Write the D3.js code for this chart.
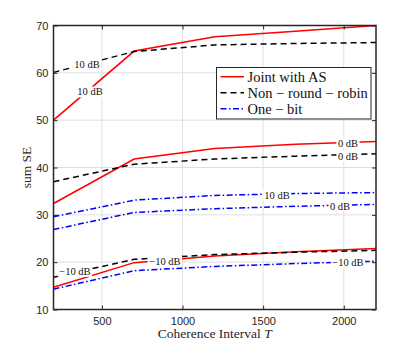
<!DOCTYPE html>
<html>
<head>
<meta charset="utf-8">
<script src="https://cdn.jsdelivr.net/npm/d3@7"></script>
<style>
  body { margin:0; background:#fff; }
  svg { display:block; }
</style>
</head>
<body>
<div id="chart"></div>
<script>
// coherence interval values
const T = [200, 700, 1200, 1700, 2200]

// sum SE series
const jointAS_10  = [50.0, 64.6, 67.6, 68.8, 70.0]
const nrr_10      = [60.1, 64.5, 65.9, 66.2, 66.4]
const jointAS_0   = [32.4, 41.8, 44.0, 44.9, 45.5]
const nrr_0       = [37.0, 40.7, 41.8, 42.4, 42.9]
const oneBit_10   = [29.6, 33.1, 34.1, 34.5, 34.7]
const oneBit_0    = [26.9, 30.5, 31.3, 31.8, 32.2]
const jointAS_m10 = [14.7, 19.9, 21.3, 22.2, 22.9]
const nrr_m10     = [16.8, 20.6, 21.6, 22.1, 22.5]
const oneBit_m10  = [14.3, 18.2, 19.1, 19.7, 20.2]

const xTicks = [500, 1000, 1500, 2000]
const yTicks = [10, 20, 30, 40, 50, 60, 70]

const legendNames = ["Joint with AS", "Non \u2212 round \u2212 robin", "One \u2212 bit"]

// SNR annotations: text, T, value
const snrLabels = [
  ["10 dB", 408, 61.9],
  ["10 dB", 426, 56.0],
  ["0 dB", 2026, 45.2],
  ["0 dB", 2026, 42.4],
  ["10 dB", 1586, 34.2],
  ["0 dB", 1977, 31.9],
  ["\u221210 dB", 333, 18.1],
  ["\u221210 dB", 891, 20.2],
  ["\u221210 dB", 2026, 20.0]
]

const styles = {
  joint: { color: "#ff0000", dash: null },
  nrr:   { color: "#000000", dash: "6,4" },
  one:   { color: "#0000ff", dash: "6,2.5,1.5,2.5" }
}

const series = [
  { s: "joint", v: jointAS_10 }, { s: "nrr", v: nrr_10 },
  { s: "joint", v: jointAS_0 },  { s: "nrr", v: nrr_0 },
  { s: "one", v: oneBit_10 },    { s: "one", v: oneBit_0 },
  { s: "joint", v: jointAS_m10 },{ s: "nrr", v: nrr_m10 },
  { s: "one", v: oneBit_m10 }
]

let width = 415, height = 348,
    margin = { top: 25.5, left: 53.5, right: 39, bottom: 38.5 },
    innerWidth = width - margin.left - margin.right,
    innerHeight = height - margin.top - margin.bottom

let svg = d3.select("#chart").append("svg")
  .attr("width", width).attr("height", height)

let xScale = d3.scaleLinear().domain([200, 2200]).range([0, innerWidth])
let yScale = d3.scaleLinear().domain([10, 70]).range([innerHeight, 0])

let g = svg.append("g").attr("transform", `translate(${margin.left},${margin.top})`)

g.append("rect").attr("width", innerWidth).attr("height", innerHeight).attr("fill", "#fff")

// grid
g.selectAll(".gx").data(xTicks).enter().append("line")
  .attr("x1", d => xScale(d)).attr("x2", d => xScale(d))
  .attr("y1", 0).attr("y2", innerHeight)
  .attr("stroke", "#dfdfdf").attr("stroke-width", 1)
g.selectAll(".gy").data(yTicks).enter().append("line")
  .attr("x1", 0).attr("x2", innerWidth)
  .attr("y1", d => yScale(d)).attr("y2", d => yScale(d))
  .attr("stroke", "#dfdfdf").attr("stroke-width", 1)

// lines
let line = d3.line().x((d, i) => xScale(T[i])).y(d => yScale(d))
svg.append("clipPath").attr("id", "clip").append("rect")
  .attr("x", -1).attr("y", -1).attr("width", innerWidth + 2).attr("height", innerHeight + 2)

g.append("g").attr("clip-path", "url(#clip)")
  .selectAll("path").data(series).enter().append("path")
  .attr("d", d => line(d.v))
  .attr("fill", "none")
  .attr("stroke", d => styles[d.s].color)
  .attr("stroke-width", 1.5)
  .attr("stroke-dasharray", d => styles[d.s].dash)

// snr labels with white background
let lab = g.selectAll(".snr").data(snrLabels).enter().append("g")
  .attr("transform", d => `translate(${xScale(d[1])},${yScale(d[2])})`)
lab.append("text")
  .attr("text-anchor", "middle").attr("dy", "0.35em")
  .attr("font-family", "'Liberation Serif', serif").attr("font-size", 10.5)
  .attr("fill", "#111")
  .text(d => d[0])
lab.each(function () {
  let gg = d3.select(this)
  let bb = gg.select("text").node().getBBox()
  gg.insert("rect", "text")
    .attr("x", bb.x - 1.5).attr("y", bb.y).attr("width", bb.width + 3).attr("height", bb.height)
    .attr("fill", "#fff")
})

// axes
let xAxis = d3.axisBottom(xScale).tickValues(xTicks).tickSize(-4).tickPadding(8).tickFormat(d3.format("d"))
let yAxis = d3.axisLeft(yScale).tickValues(yTicks).tickSize(-4).tickPadding(5)
g.append("g").attr("transform", `translate(0,${innerHeight})`).call(xAxis)
g.append("g").call(yAxis)
g.append("g").call(d3.axisTop(xScale).tickValues(xTicks).tickSize(-4).tickFormat(""))
g.append("g").attr("transform", `translate(${innerWidth},0)`).call(d3.axisRight(yScale).tickValues(yTicks).tickSize(-4).tickFormat(""))
g.selectAll(".domain").remove()
g.selectAll(".tick line").attr("stroke", "#262626").attr("stroke-width", 1)
g.selectAll(".tick text").attr("font-family", "'Liberation Sans', Arial, sans-serif").attr("font-size", 11).attr("fill", "#262626")

g.append("rect").attr("width", innerWidth).attr("height", innerHeight)
  .attr("fill", "none").attr("stroke", "#262626").attr("stroke-width", 1.5)

// axis labels
let xl = svg.append("text")
  .attr("x", margin.left + innerWidth / 2).attr("y", 338)
  .attr("text-anchor", "middle")
  .attr("font-family", "'Liberation Serif', serif").attr("font-size", 13.5).attr("fill", "#262626")
xl.append("tspan").text("Coherence Interval ")
xl.append("tspan").attr("font-style", "italic").text("T")

svg.append("text")
  .attr("transform", `translate(31,${margin.top + innerHeight / 2}) rotate(-90)`)
  .attr("text-anchor", "middle")
  .attr("font-family", "'Liberation Serif', serif").attr("font-size", 13.5).attr("fill", "#262626")
  .text("sum SE")

// legend
let lg = svg.append("g").attr("transform", "translate(216.5,67.5)")
lg.append("rect").attr("width", 154.5).attr("height", 51.5)
  .attr("fill", "#fff").attr("stroke", "#262626").attr("stroke-width", 1)
let keys = ["joint", "nrr", "one"]
let item = lg.selectAll(".item").data(legendNames).enter().append("g")
  .attr("transform", (d, i) => `translate(0,${9.2 + i * 16})`)
item.append("line")
  .attr("x1", 4).attr("x2", 27.5).attr("y1", 0).attr("y2", 0)
  .attr("stroke", (d, i) => styles[keys[i]].color)
  .attr("stroke-width", 1.5)
  .attr("stroke-dasharray", (d, i) => styles[keys[i]].dash)
item.append("text")
  .attr("x", 31).attr("dy", "0.35em")
  .attr("font-family", "'Liberation Serif', serif").attr("font-size", 14.5).attr("fill", "#111")
  .text(d => d)
</script>
</body>
</html>
